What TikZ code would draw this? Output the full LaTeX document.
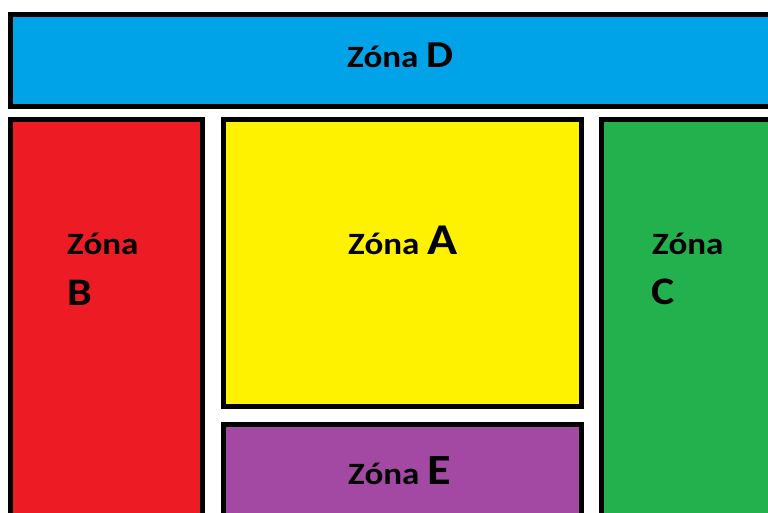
\documentclass[tikz,border=0pt]{standalone}
\usepackage{fontspec}
\setmainfont{Carlito}[FakeStretch=1.13]
\definecolor{zD}{HTML}{00A2E8}
\definecolor{zB}{HTML}{ED1C24}
\definecolor{zA}{HTML}{FFF200}
\definecolor{zC}{HTML}{22B14C}
\definecolor{zE}{HTML}{A349A4}
\tikzset{
  zone/.style={draw=black, line width=5pt},
  lbl/.style={inner sep=0pt, anchor=base west, font=\bfseries},
}
\newcommand{\fs}[1]{\fontsize{#1}{#1}\selectfont}
\begin{document}
\begin{tikzpicture}[x=1pt,y=-1pt]
\useasboundingbox (0,0) rectangle (768,512);
\fill[white] (0,0) rectangle (768,512);
\clip (0,0) rectangle (768,512);
\path[zone, fill=zD] (10.5,14.5) rectangle (800,106.5);
\path[zone, fill=zB] (10.5,119.5) rectangle (202.5,600);
\path[zone, fill=zA] (223.5,119.5) rectangle (581.5,406.5);
\path[zone, fill=zE] (223.5,424.5) rectangle (581.5,600);
\path[zone, fill=zC] (601.5,119.5) rectangle (800,600);
\node[lbl] (tD) at (347,67) {\fs{31}Zóna \fs{38}D};
\node[lbl] (tA) at (348,254) {\fs{31}Zóna \fs{44}A};
\node[lbl] (tE) at (348,484) {\fs{31}Zóna \fs{43}E};
\node[lbl] (tB1) at (67,254) {\fs{31}Zóna};
\node[lbl] (tB2) at (67,305) {\fs{39}B};
\node[lbl] (tC1) at (652,254) {\fs{31}Zóna};
\node[lbl] (tC2) at (651,304) {\fs{39}C};
\end{tikzpicture}
\end{document}
